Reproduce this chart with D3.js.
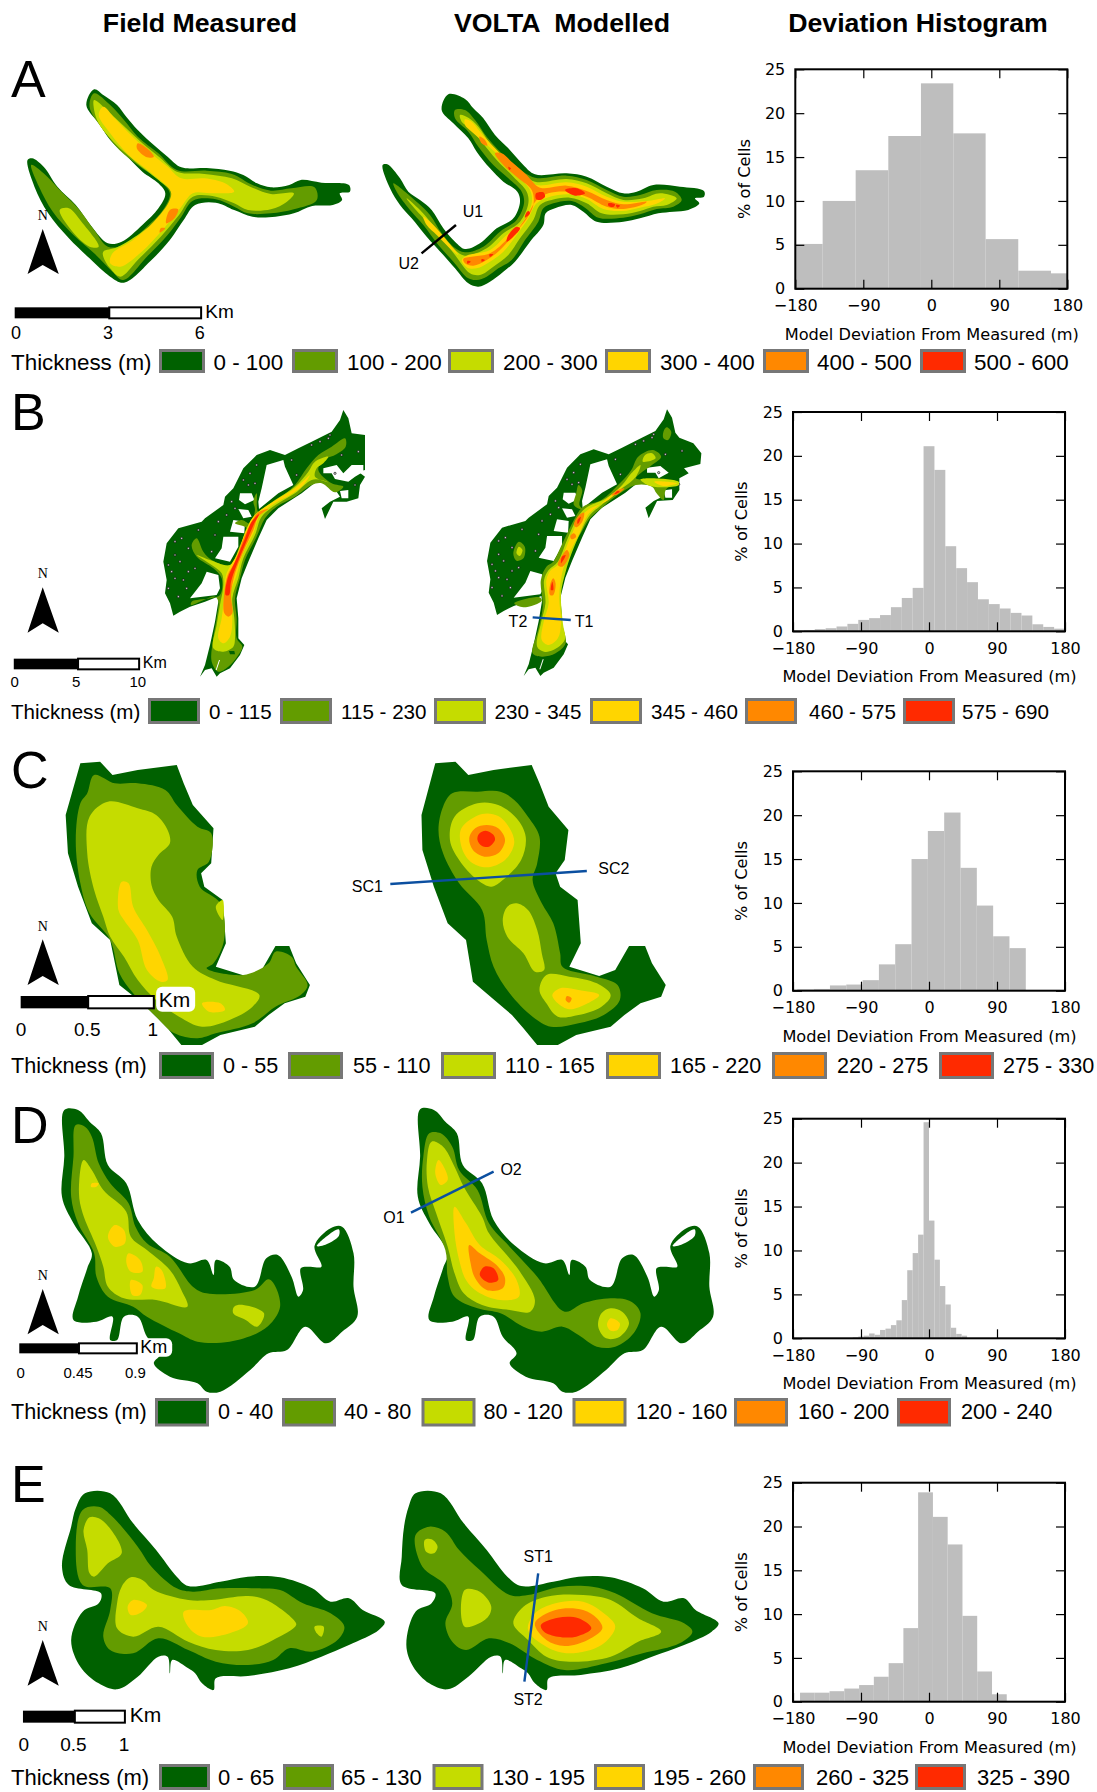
<!DOCTYPE html>
<html>
<head>
<meta charset="utf-8">
<script src="https://cdn.jsdelivr.net/npm/d3@7/dist/d3.min.js"></script>
<style>
  html, body { margin: 0; background: #fff; }
  svg { display: block; }
  text { fill: #000; }
</style>
</head>
<body>
<svg id="chart" width="1097" height="1792"></svg>
<script>
// ── thickness classes ──
const thicknessColors = ['#006100', '#639c00', '#c5dc00', '#ffd500', '#ff8800', '#ff2a00'];
const panelLetters = ['A', 'B', 'C', 'D', 'E'];
const columnTitles = ['Field Measured', 'VOLTA  Modelled', 'Deviation Histogram'];

const legendA = ['0 - 100', '100 - 200', '200 - 300', '300 - 400', '400 - 500', '500 - 600'];
const legendB = ['0 - 115', '115 - 230', '230 - 345', '345 - 460', '460 - 575', '575 - 690'];
const legendC = ['0 - 55', '55 - 110', '110 - 165', '165 - 220', '220 - 275', '275 - 330'];
const legendD = ['0 - 40', '40 - 80', '80 - 120', '120 - 160', '160 - 200', '200 - 240'];
const legendE = ['0 - 65', '65 - 130', '130 - 195', '195 - 260', '260 - 325', '325 - 390'];

// ── deviation histograms: bin edges (m) and % of cells ──
const histTicksX = [-180, -90, 0, 90, 180];
const histTicksY = [0, 5, 10, 15, 20, 25];

const edgesA = [-187, -143.8, -100.1, -56.9, -13.7, 29.1, 71.9, 115.1, 158.4, 201.6];
const valuesA = [5.1, 10, 13.5, 17.4, 23.4, 17.7, 5.65, 2.05, 1.75];

const edgesB = [-180, -165.6, -151.2, -136.8, -122.4, -108, -93.6, -79.2, -64.8, -50.4, -36, -21.6, -7.2, 7.2, 21.6, 36, 50.4, 64.8, 79.2, 93.6, 108, 122.4, 136.8, 151.2, 165.6, 180];
const valuesB = [0.1, 0.15, 0.25, 0.35, 0.55, 0.85, 1.3, 1.5, 1.85, 2.75, 3.8, 4.95, 21.1, 18.4, 9.7, 7.2, 5.6, 3.65, 3.1, 2.6, 2.1, 1.8, 0.8, 0.5, 0.3];

const edgesC = [-174.3, -152.7, -131.1, -109.5, -87.9, -66.3, -44.7, -23.1, -1.5, 20.1, 41.7, 63.3, 84.9, 106.5, 128.1];
const valuesC = [0.15, 0.2, 0.6, 0.7, 1.2, 3, 5.3, 15, 18.2, 20.3, 14, 9.7, 6.2, 4.85];

const edgesD = [-100.8, -93.6, -86.4, -79.2, -72, -64.8, -57.6, -50.4, -43.2, -36, -28.8, -21.6, -14.4, -7.2, 0, 7.2, 14.4, 21.6, 28.8, 36, 43.2, 50.4];
const valuesD = [0.1, 0.2, 0.3, 0.55, 0.4, 0.95, 1.1, 1.5, 2.05, 4.35, 7.75, 9.7, 11.8, 24.6, 13.4, 8.95, 5.95, 3.85, 1.2, 0.5, 0.3];

const edgesE = [-170.7, -151.2, -131.6, -112.1, -92.5, -73, -53.4, -33.9, -14.4, 5.2, 24.7, 44.3, 63.8, 83.4, 102.9];
const valuesE = [1.03, 1.03, 1.2, 1.5, 1.9, 2.85, 4.4, 8.4, 23.9, 21.1, 17.95, 9.8, 3.45, 0.85];

// ── map contours: [class, x0,y0, x1,y1, ...] ──
// class -1 is a hole (rock / open ground). Each set has its own trace frame, see panels below.
const mapAField = [
  [0, 205,118, 225,135, 255,165, 275,200, 300,240, 335,285, 365,320, 395,352, 450,354, 500,362, 530,375, 560,400, 590,412, 630,405, 655,390, 700,398, 760,405, 762,425, 740,430, 745,450, 725,465, 680,468, 640,490, 600,500, 550,500, 510,480, 470,458, 425,465, 400,510, 370,570, 330,630, 270,698, 240,680, 195,625, 150,565, 105,490, 75,410, 60,330, 70,325, 95,350, 125,410, 165,465, 200,530, 235,580, 265,575, 310,525, 345,475, 360,430, 345,400, 310,365, 270,310, 240,270, 215,220, 188,165],
  [1, 205,130, 240,165, 270,210, 300,260, 345,310, 385,360, 450,362, 505,372, 550,405, 590,422, 635,415, 685,412, 690,450, 640,478, 590,490, 540,490, 510,470, 470,448, 420,452, 395,500, 365,555, 320,620, 268,690, 245,665, 205,610, 160,555, 115,485, 85,410, 68,345, 95,370, 130,420, 170,475, 205,540, 235,590, 270,585, 320,530, 355,480, 370,430, 350,395, 300,345, 260,300, 225,240, 195,170],
  [2, 205,150, 240,190, 275,235, 310,280, 350,325, 385,365, 445,372, 505,385, 545,410, 590,432, 640,430, 625,455, 590,478, 540,480, 510,460, 470,440, 420,440, 390,495, 350,560, 300,630, 262,680, 240,655, 225,620, 225,605, 255,592, 315,540, 365,480, 375,430, 345,390, 295,335, 250,280, 215,220, 205,180],
  [2, 130,480, 150,475, 180,520, 215,590, 195,590, 155,540],
  [3, 225,170, 250,205, 285,255, 325,305, 365,350, 395,385, 445,385, 490,400, 510,425, 460,430, 420,430, 395,470, 360,530, 305,610, 262,650, 240,640, 245,610, 290,570, 335,515, 368,455, 372,425, 330,370, 280,315, 240,250, 215,195],
  [4, 300,280, 320,295, 335,320, 320,322, 298,295],
  [4, 370,480, 388,478, 380,505, 362,520],
  [4, 350,535, 360,535, 348,548]
];
const mapAModel = [
  [0, 205,28, 255,42, 280,70, 310,100, 345,150, 385,190, 430,240, 465,268, 560,265, 620,275, 680,305, 730,325, 770,320, 820,300, 900,305, 972,318, 972,335, 945,340, 958,355, 925,375, 880,380, 835,385, 780,400, 730,410, 650,410, 610,380, 575,360, 525,370, 497,385, 490,420, 450,470, 405,530, 370,560, 330,590, 295,605, 265,595, 225,550, 190,510, 140,455, 95,400, 60,360, 30,310, 8,240, 22,238, 60,280, 85,320, 120,345, 155,375, 190,430, 225,470, 255,492, 300,475, 350,430, 400,400, 420,350, 412,320, 370,290, 330,250, 290,200, 265,160, 220,115, 185,75],
  [1, 225,75, 255,75, 285,105, 320,155, 365,205, 410,245, 465,278, 560,272, 620,285, 680,315, 730,335, 780,330, 830,315, 885,320, 905,345, 880,365, 830,372, 780,388, 730,398, 655,398, 615,368, 575,348, 520,355, 490,370, 475,410, 435,465, 395,525, 355,550, 320,575, 290,585, 265,580, 220,530, 175,480, 130,420, 90,375, 50,320, 40,295, 75,320, 115,355, 150,390, 185,445, 220,485, 255,502, 310,485, 360,440, 410,405, 432,355, 425,320, 385,280, 340,240, 295,185, 265,140, 225,100],
  [2, 240,90, 265,98, 295,125, 330,175, 375,220, 420,260, 465,290, 560,282, 620,295, 680,325, 730,345, 790,340, 840,325, 890,340, 860,360, 820,365, 780,378, 730,388, 665,385, 620,355, 570,338, 515,345, 480,360, 460,405, 420,460, 385,510, 340,545, 300,570, 270,565, 225,510, 185,460, 140,410, 95,360, 80,340, 120,375, 155,415, 190,460, 225,495, 255,512, 320,490, 370,445, 420,410, 445,355, 440,320, 400,275, 350,225, 305,170, 270,130, 245,110],
  [3, 255,103, 275,110, 300,140, 345,190, 390,235, 435,275, 470,300, 560,292, 620,305, 680,335, 730,350, 800,348, 855,340, 825,358, 780,368, 725,378, 670,372, 620,342, 570,328, 510,335, 470,355, 445,400, 410,450, 370,500, 330,530, 290,550, 262,548, 245,525, 260,512, 330,495, 380,450, 425,415, 455,355, 450,315, 410,270, 360,215, 310,170, 275,140, 255,120],
  [3, 130,395, 160,420, 195,460, 235,510, 215,495, 170,450, 140,420],
  [4, 345,205, 365,205, 400,235, 440,270, 480,308, 560,302, 620,318, 680,345, 730,358, 800,350, 790,358, 730,372, 680,365, 620,335, 565,320, 505,325, 470,345, 440,395, 400,450, 360,495, 320,525, 280,542, 255,535, 250,522, 330,505, 385,460, 430,415, 460,360, 455,315, 415,280, 370,240],
  [4, 298,155, 315,165, 322,182, 305,175],
  [5, 468,325, 490,322, 495,335, 480,345, 468,342],
  [5, 555,315, 590,310, 615,325, 585,332],
  [5, 685,355, 705,358, 700,366, 685,362],
  [5, 708,360, 720,362, 712,368],
  [5, 410,425, 420,430, 400,455, 380,470, 385,450],
  [5, 445,378, 450,385, 435,398, 438,385],
  [5, 262,528, 272,530, 262,536],
  [5, 305,522, 315,525, 305,530],
  [5, 328,508, 340,508, 330,516],
  [5, 385,245, 393,250, 388,255]
];

const mapBField = [
  [0, 135,815, 150,780, 165,720, 180,650, 190,590, 188,575, 150,590, 105,605, 75,620, 55,632, 45,595, 30,565, 35,525, 25,470, 35,415, 70,370, 140,350, 150,340, 205,300, 210,275, 235,250, 265,190, 305,150, 345,135, 390,150, 430,130, 470,110, 530,80, 555,45, 565,15, 580,40, 590,85, 630,90, 630,195, 610,200, 630,215, 615,240, 610,280, 575,290, 535,290, 510,342, 500,310, 525,290, 555,275, 535,245, 490,225, 440,265, 370,310, 335,345, 310,400, 280,470, 260,520, 245,580, 250,640, 250,700, 268,720, 255,750, 225,790, 195,805, 185,815, 170,790, 150,795],
  [-1, 335,180, 385,165, 390,185, 415,240, 370,265, 312,312, 310,290, 320,250],
  [-1, 255,265, 290,265, 298,285, 270,298, 252,285],
  [-1, 250,312, 280,315, 290,335, 265,340],
  [-1, 235,345, 270,350, 268,385, 225,380],
  [-1, 205,395, 250,395, 250,425, 225,470, 180,460, 200,430],
  [-1, 155,500, 190,510, 195,550, 185,570, 105,580, 140,535],
  [-1, 505,190, 545,180, 565,205, 590,180, 625,180, 625,200, 600,215, 580,230, 540,222, 530,205, 505,205],
  [-1, 555,258, 580,255, 580,280, 560,280],
  [1, 570,100, 572,125, 540,150, 505,165, 490,195, 530,235, 565,245, 540,262, 500,235, 470,240, 420,275, 365,305, 330,340, 305,395, 270,465, 255,520, 240,580, 245,640, 245,700, 262,725, 250,750, 220,785, 190,800, 170,770, 175,700, 185,640, 190,590, 180,575, 108,600, 110,590, 165,580, 195,570, 200,520, 175,490, 125,455, 110,420, 125,400, 145,440, 170,465, 225,480, 255,420, 275,370, 240,355, 260,345, 285,355, 300,315, 295,290, 305,265, 310,320, 360,290, 420,240, 455,190, 490,150, 530,125],
  [2, 520,155, 505,175, 485,190, 480,215, 520,232, 500,225, 470,225, 420,265, 365,298, 320,335, 300,390, 265,460, 250,520, 232,580, 238,640, 240,700, 235,725, 205,740, 175,730, 185,660, 195,600, 205,540, 200,505, 170,480, 125,450, 165,465, 225,480, 250,440, 275,370, 300,330, 360,285, 420,245, 460,200, 480,170],
  [3, 465,210, 445,240, 405,270, 360,295, 315,330, 295,385, 262,450, 245,510, 225,570, 232,640, 225,695, 205,715, 190,700, 200,640, 208,570, 212,515, 222,490, 245,450, 270,385, 295,335, 355,290, 420,250],
  [4, 340,312, 310,335, 295,375, 265,440, 240,505, 228,570, 232,625, 220,635, 208,625, 207,570, 218,510, 240,470, 262,410, 285,360, 310,322],
  [5, 312,328, 298,355, 272,415, 245,480, 228,530, 222,570, 212,570, 218,520, 240,470, 268,405, 290,350],
  [0, 222,738, 238,738, 240,748, 225,748],
  [-1, 195,765, 185,795, 182,795, 192,765]
];
const mapBModelBase = [
  [0, 135,815, 150,780, 165,720, 180,650, 190,590, 188,575, 150,590, 105,605, 75,620, 55,632, 45,595, 30,565, 35,525, 25,470, 35,415, 70,370, 140,350, 150,340, 205,300, 210,275, 235,250, 265,190, 305,150, 345,135, 390,150, 430,130, 470,110, 530,80, 555,45, 565,15, 580,40, 590,85, 602,100, 644,117, 668,147, 665,179, 616,192, 630,207, 602,222, 602,257, 582,287, 535,290, 510,342, 500,310, 525,290, 555,275, 535,245, 490,225, 440,265, 370,310, 335,345, 310,400, 280,470, 260,520, 245,580, 250,640, 250,700, 268,720, 255,750, 225,790, 195,805, 185,815, 170,790, 150,795],
  [-1, 335,180, 385,165, 390,185, 415,240, 370,265, 312,312, 310,290, 320,250],
  [-1, 255,265, 290,265, 298,285, 270,298, 252,285],
  [-1, 250,312, 280,315, 290,335, 265,340],
  [-1, 235,345, 270,350, 268,385, 225,380],
  [-1, 205,395, 250,395, 250,425, 225,470, 180,460, 200,430],
  [-1, 155,500, 190,510, 195,550, 185,570, 105,580, 140,535],
  [-1, 505,190, 545,185, 570,205, 540,222, 530,205, 505,205],
  [-1, 555,258, 580,255, 580,280, 560,280],
  [-1, 195,765, 185,795, 182,795, 192,765]
];
const mapBModel = [
  [1, 1422,180, 1440,200, 1420,225, 1395,250, 1385,265, 1440,270, 1470,275, 1450,300, 1445,330, 1430,310, 1420,290, 1385,285, 1340,320, 1305,360, 1285,385, 1265,430, 1240,490, 1228,550, 1218,620, 1224,700, 1232,760, 1210,790, 1180,800, 1160,790, 1172,720, 1182,650, 1178,570, 1190,530, 1205,515, 1225,460, 1250,390, 1270,350, 1310,330, 1350,280, 1375,240, 1390,200],
  [1, 1130,455, 1143,470, 1140,505, 1125,512, 1118,490],
  [1, 1452,112, 1462,125, 1455,150, 1445,145, 1445,125],
  [1, 1260,285, 1268,300, 1262,345, 1270,360, 1250,345, 1255,310],
  [1, 1120,640, 1175,622, 1180,632, 1140,652],
  [2, 1420,190, 1428,205, 1400,215, 1405,195],
  [2, 1395,225, 1385,260, 1355,295, 1310,345, 1285,375, 1265,425, 1245,490, 1232,545, 1222,610, 1226,700, 1230,750, 1205,780, 1185,785, 1170,770, 1178,700, 1188,640, 1185,570, 1195,540, 1215,515, 1235,450, 1255,390, 1275,355, 1320,325, 1355,285, 1375,250],
  [2, 1395,268, 1478,275, 1478,285, 1440,292, 1410,285],
  [2, 1130,470, 1138,480, 1132,498, 1125,490],
  [3, 1385,258, 1350,295, 1310,340, 1280,375, 1262,430, 1240,490, 1225,545, 1218,620, 1222,700, 1215,745, 1195,765, 1180,750, 1185,690, 1195,640, 1190,570, 1200,540, 1215,525, 1240,450, 1258,395, 1280,360, 1325,330, 1360,285],
  [3, 1425,275, 1475,280, 1445,288],
  [4, 1360,295, 1342,315, 1332,315, 1345,300],
  [4, 1272,368, 1268,395, 1255,412, 1250,405, 1258,380],
  [4, 1250,430, 1255,440, 1245,448, 1242,438],
  [4, 1235,480, 1240,495, 1225,530, 1215,525, 1225,495],
  [4, 1205,565, 1210,580, 1205,615, 1198,615, 1198,585],
  [5, 1345,303, 1350,305, 1338,313],
  [5, 1265,380, 1262,395, 1258,402, 1258,390],
  [5, 1232,495, 1222,520, 1224,500],
  [5, 1203,575, 1205,600, 1200,600]
];
const specksB = [40,480, 60,450, 75,470, 100,430, 60,520, 85,525, 95,550, 70,575, 40,550, 130,375, 180,390, 190,350, 215,330, 240,310, 265,225, 285,205, 305,180, 300,235, 410,165, 425,210, 470,120, 495,110, 525,90, 520,100, 610,140, 600,240, 540,205, 560,150, 170,440, 60,410, 100,500, 50,500, 120,490, 80,400, 230,290, 280,240];

const mapCField = [
  [0, 175,70, 218,65, 245,105, 300,90, 385,75, 400,130, 420,195, 465,265, 460,370, 438,400, 445,440, 485,480, 492,610, 470,680, 535,708, 570,690, 600,618, 630,618, 645,670, 675,735, 665,770, 620,790, 585,825, 555,860, 480,885, 440,915, 395,915, 365,865, 340,830, 310,790, 260,735, 240,600, 200,550, 170,440, 148,340, 143,225],
  [1, 205,105, 250,130, 300,130, 360,150, 385,195, 430,260, 460,280, 455,365, 430,390, 435,440, 480,490, 488,600, 465,670, 450,685, 530,705, 585,670, 600,635, 635,650, 645,680, 670,735, 655,765, 600,800, 550,850, 470,880, 430,895, 380,880, 340,830, 290,760, 260,700, 240,600, 195,520, 175,430, 165,300, 175,190, 190,160],
  [2, 235,185, 300,205, 340,225, 365,270, 370,310, 345,345, 330,380, 330,435, 345,480, 375,530, 385,590, 420,680, 470,720, 565,765, 550,800, 500,840, 440,860, 390,830, 340,780, 300,720, 270,650, 240,590, 225,530, 205,450, 190,340, 195,230],
  [2, 470,500, 485,480, 485,540],
  [3, 265,425, 280,430, 290,500, 320,570, 350,650, 365,720, 350,725, 320,690, 300,600, 270,540, 258,510],
  [3, 440,790, 480,790, 490,810, 455,815]
];
const mapCModel = [
  [0, 948,70, 992,65, 1020,105, 1075,90, 1158,75, 1175,130, 1195,200, 1238,270, 1230,360, 1210,400, 1220,440, 1258,480, 1265,610, 1240,680, 1305,708, 1340,690, 1370,618, 1405,618, 1420,670, 1450,735, 1440,770, 1395,790, 1360,825, 1330,860, 1255,885, 1215,915, 1170,915, 1140,865, 1115,825, 1085,790, 1030,725, 1015,600, 975,550, 945,440, 920,330, 918,225],
  [1, 985,160, 1040,155, 1090,155, 1120,180, 1150,230, 1175,290, 1170,370, 1160,420, 1180,490, 1205,550, 1220,640, 1225,680, 1300,710, 1345,735, 1350,780, 1315,825, 1260,850, 1200,860, 1160,830, 1110,760, 1075,680, 1060,600, 1050,510, 1000,430, 965,340, 955,270, 965,200],
  [2, 1040,190, 1085,195, 1125,235, 1145,290, 1135,360, 1095,420, 1070,440, 1040,420, 1000,360, 980,300, 990,230],
  [2, 1125,490, 1150,510, 1170,570, 1180,640, 1185,690, 1165,695, 1140,640, 1105,590, 1095,540, 1105,500],
  [2, 1190,705, 1240,710, 1300,730, 1330,765, 1310,800, 1260,825, 1215,830, 1190,790, 1175,750],
  [3, 1050,222, 1085,228, 1110,265, 1120,310, 1100,360, 1060,382, 1025,365, 1005,320, 1005,265],
  [3, 1220,745, 1260,750, 1305,765, 1280,790, 1240,808, 1215,790, 1203,765],
  [4, 1060,255, 1085,265, 1100,300, 1085,340, 1055,350, 1030,330, 1022,295, 1035,265],
  [4, 1235,768, 1245,775, 1240,788, 1232,780],
  [5, 1058,272, 1075,285, 1078,300, 1065,320, 1050,318, 1040,300, 1043,282]
];

const mapDField = [
  [0, 140,60, 170,60, 195,95, 220,130, 235,225, 275,280, 300,390, 345,465, 410,520, 450,510, 465,555, 470,510, 500,530, 510,570, 555,590, 580,505, 605,495, 635,560, 650,620, 660,600, 655,535, 675,530, 700,530, 685,468, 720,415, 745,410, 770,490, 770,590, 778,680, 745,725, 710,760, 665,710, 625,780, 585,790, 545,840, 480,905, 450,905, 430,880, 370,860, 335,820, 350,790, 320,740, 300,680, 270,680, 255,750, 240,750, 245,680, 210,695, 160,690, 170,620, 190,535, 200,490, 160,400, 135,320, 140,200],
  [-1, 690,468, 725,425, 738,418, 738,438, 705,466],
  [1, 165,105, 185,110, 200,140, 215,220, 240,280, 280,340, 295,410, 320,460, 370,500, 420,590, 450,610, 555,600, 585,568, 600,590, 610,650, 590,700, 560,730, 500,755, 430,755, 390,730, 320,680, 290,650, 235,620, 210,560, 205,490, 170,400, 155,320, 160,200],
  [2, 182,210, 200,240, 225,300, 275,365, 285,440, 320,480, 370,540, 395,600, 408,650, 340,630, 270,625, 235,590, 225,530, 210,470, 180,370, 172,310],
  [2, 510,650, 530,645, 575,670, 560,710, 535,690, 508,670],
  [3, 200,280, 215,280, 210,290, 198,290],
  [3, 250,405, 270,420, 272,460, 250,470, 235,440],
  [3, 280,490, 305,510, 310,545, 285,545, 275,515],
  [3, 340,530, 352,540, 360,595, 330,590, 335,565],
  [3, 285,570, 310,585, 305,615, 288,615]
];
const mapDModel = [
  [0, 915,58, 945,60, 970,95, 995,130, 1008,225, 1050,280, 1075,390, 1120,465, 1185,520, 1225,510, 1240,555, 1245,510, 1275,530, 1285,570, 1330,590, 1355,505, 1380,495, 1410,560, 1425,620, 1435,600, 1430,535, 1450,530, 1475,530, 1460,468, 1495,415, 1520,410, 1545,490, 1545,590, 1553,680, 1520,725, 1485,760, 1440,710, 1400,780, 1360,790, 1320,840, 1255,905, 1225,905, 1205,880, 1145,860, 1110,820, 1125,790, 1095,740, 1075,680, 1045,680, 1030,750, 1015,750, 1020,680, 985,695, 935,690, 945,620, 965,535, 975,490, 935,400, 910,320, 915,200],
  [-1, 1465,468, 1500,425, 1513,418, 1513,438, 1480,466],
  [1, 935,130, 960,130, 985,170, 1000,240, 1040,300, 1065,400, 1110,470, 1170,560, 1230,665, 1270,640, 1330,625, 1375,635, 1395,670, 1380,730, 1340,770, 1300,770, 1260,735, 1225,710, 1180,725, 1140,710, 1090,670, 1040,655, 990,620, 975,560, 970,480, 935,380, 920,290, 922,200],
  [2, 940,155, 965,170, 990,230, 1010,290, 1050,380, 1065,430, 1130,540, 1165,630, 1155,665, 1110,660, 1050,645, 1010,610, 990,550, 975,470, 950,370, 932,290, 930,210],
  [2, 1330,655, 1355,665, 1370,700, 1350,740, 1320,745, 1303,710, 1310,670],
  [3, 955,210, 970,240, 975,270, 960,285, 948,250],
  [3, 990,350, 1015,400, 1045,465, 1090,510, 1125,570, 1130,620, 1090,630, 1040,605, 1015,570, 1000,510, 990,430],
  [3, 1330,685, 1350,700, 1345,720, 1330,722, 1322,705],
  [4, 1022,465, 1045,490, 1085,530, 1100,565, 1095,595, 1060,600, 1035,565, 1025,520],
  [5, 1055,530, 1075,535, 1085,570, 1065,578, 1045,555]
];

const mapEField = [
  [0, 185,100, 240,100, 290,190, 340,270, 385,350, 410,378, 480,365, 540,350, 610,352, 680,385, 720,425, 760,415, 790,450, 838,485, 825,510, 760,555, 700,590, 630,625, 540,648, 470,655, 465,690, 440,670, 425,640, 410,625, 375,600, 370,640, 365,590, 345,590, 300,650, 255,688, 215,670, 175,620, 155,540, 180,455, 215,430, 220,400, 150,375, 135,320, 155,200, 165,145],
  [1, 180,150, 215,140, 245,170, 300,260, 330,320, 385,385, 420,395, 480,385, 560,385, 610,390, 660,430, 720,460, 750,500, 735,540, 680,575, 630,565, 595,600, 540,615, 470,605, 410,570, 345,535, 290,580, 240,570, 225,530, 240,450, 240,385, 180,375, 165,260],
  [2, 195,172, 215,175, 245,215, 265,280, 235,310, 205,350, 195,340, 190,270, 182,210],
  [2, 285,352, 310,360, 335,390, 410,420, 460,420, 540,408, 580,420, 640,480, 645,495, 595,540, 540,570, 470,570, 410,545, 345,500, 290,530, 255,505, 255,430, 265,380],
  [2, 685,500, 705,500, 700,530, 690,520],
  [3, 290,420, 320,435, 310,455, 285,465, 278,440],
  [3, 400,455, 460,450, 490,438, 525,455, 540,490, 500,520, 440,530, 410,500]
];
const mapEModel = [
  [0, 905,100, 960,100, 1010,190, 1060,270, 1105,350, 1135,378, 1205,365, 1260,350, 1330,352, 1400,385, 1445,425, 1490,415, 1515,450, 1565,490, 1550,515, 1490,555, 1420,590, 1350,625, 1265,645, 1195,655, 1190,690, 1165,670, 1150,640, 1135,625, 1100,600, 1095,640, 1090,590, 1070,590, 1020,650, 975,688, 935,670, 900,620, 885,555, 905,455, 940,430, 948,400, 875,375, 875,290, 880,200, 890,140],
  [1, 905,225, 935,200, 970,215, 1000,270, 1045,330, 1110,405, 1150,405, 1220,380, 1290,380, 1340,400, 1420,460, 1490,490, 1508,515, 1480,550, 1400,580, 1320,610, 1230,630, 1170,600, 1110,550, 1065,535, 1015,570, 985,545, 970,490, 985,430, 970,375, 920,320],
  [2, 925,240, 940,238, 953,260, 945,280, 928,275],
  [2, 1012,390, 1045,395, 1070,440, 1060,475, 1012,500],
  [2, 1140,440, 1190,410, 1270,405, 1330,420, 1390,475, 1440,515, 1390,545, 1330,590, 1240,605, 1190,590, 1150,540, 1118,490],
  [3, 1165,460, 1210,430, 1270,425, 1320,465, 1340,500, 1310,555, 1240,580, 1190,560, 1150,510],
  [4, 1165,490, 1210,450, 1270,450, 1300,475, 1312,505, 1280,540, 1230,558, 1190,540],
  [5, 1178,495, 1215,473, 1260,475, 1288,505, 1255,530, 1215,530, 1185,515]
];

// transects: name at each end
const transectNames = [['U1', 'U2'], ['T1', 'T2'], ['SC1', 'SC2'], ['O1', 'O2'], ['ST1', 'ST2']];

// ── page layout ──
const W = 1097, H = 1792;
const svg = d3.select('#chart');
const sans = '"Liberation Sans", Arial, sans-serif';
const plotFont = '"DejaVu Sans", sans-serif';

// frame: [left px, top px, trace units per px across, trace units per px down]
const panels = [
  { letter: 0, top: 50, base: 97, legend: legendA,
    maps: [
      { frame: [0, 50, 2.178, 3], layers: mapAField, smooth: true },
      { frame: [380, 85, 3, 3], layers: mapAModel, smooth: true }
    ],
    hist: { edges: edgesA, values: valuesA, x: [795.3, 1067.3], y: [288.7, 69.3], labelX: 744 },
    transect: { line: [918,610, 993,525], color: '#000', labels: [[1030,483], [890,640]], names: 0 },
    compass: { n: 495, tip: 537, notch: 645, base: 672 },
    bar: { x: [32, 238, 438], y: [772, 805], stops: ['0', '3', '6'], stopX: [35, 235, 435], stopY: 848, kmX: 478, kmY: 783, font: 18, km: 19 },
    lg: { swatch: [159, 292, 448, 605, 763, 920], label: [213.5, 347, 503, 660, 817, 974], y: [349, 373], w: 46, font: 22.4, textY: 362 } },
  { letter: 1, top: 390, base: 430, legend: legendB,
    maps: [
      { frame: [155, 405, 3, 3], layers: mapBField, specks: specksB },
      { frame: [478.7, 404.3, 3, 3], layers: mapBModelBase, specks: specksB },
      { frame: [0, 390, 2.178, 3], layers: mapBModel }
    ],
    hist: { edges: edgesB, values: valuesB, x: [793, 1065], y: [631.3, 412], labelX: 741.7 },
    transect: { line: [1160,682, 1243,690], color: '#0b4fa0', labels: [[1272,695], [1128,695]], names: 1 },
    compass: { n: 550, tip: 592, notch: 700, base: 728 },
    bar: { x: [30, 170, 303], y: [806, 838], stops: ['0', '5', '10'], stopX: [32, 166, 300], stopY: 876, kmX: 337, kmY: 818, font: 15, km: 16 },
    lg: { swatch: [148, 280, 434, 590, 745, 903], label: [209, 341, 494.5, 651, 809, 962], y: [698, 724], w: 52, font: 20.6, textY: 712 } },
  { letter: 2, top: 740, base: 788, legend: legendC,
    maps: [
      { frame: [0, 740, 2.178, 3], layers: mapCField },
      { frame: [0, 740, 2.178, 3], layers: mapCModel }
    ],
    hist: { edges: edgesC, values: valuesC, x: [793, 1065], y: [990.7, 771.3], labelX: 741.7 },
    transect: { line: [850,432, 1278,393], color: '#0b4fa0', labels: [[800,440], [1337,385]], names: 2 },
    compass: { n: 558, tip: 598, notch: 708, base: 735 },
    bar: { x: [45, 192, 335], y: [768, 805], stops: ['0', '0.5', '1'], stopX: [46, 190, 333], stopY: 868, kmX: 380, kmY: 778, font: 19, km: 21, halo: [340, 740, 425, 815] },
    lg: { swatch: [159, 288, 441, 606, 772, 939], label: [223, 353, 505, 670, 837, 1003], y: [1052, 1079], w: 55, font: 21.6, textY: 1065 } },
  { letter: 3, top: 1090, base: 1143, legend: legendD,
    maps: [
      { frame: [0, 1090, 2.178, 3], layers: mapDField, smooth: true },
      { frame: [0, 1090, 2.178, 3], layers: mapDModel, smooth: true }
    ],
    hist: { edges: edgesD, values: valuesD, x: [793, 1065], y: [1338.3, 1118.7], labelX: 741.7 },
    transect: { line: [895,368, 1075,245], color: '#0b4fa0', labels: [[858,382], [1113,237]], names: 3 },
    compass: { n: 555, tip: 597, notch: 705, base: 733 },
    bar: { x: [42, 172, 298], y: [760, 790], stops: ['0', '0.45', '0.9'], stopX: [45, 170, 295], stopY: 848, kmX: 335, kmY: 770, font: 15, km: 18, halo: [303, 745, 375, 800] },
    lg: { swatch: [155, 282, 421.5, 572.5, 734, 897], label: [218, 344, 483.5, 636, 798, 961], y: [1398, 1426.5], w: 54, font: 21.6, textY: 1411.7 } },
  { letter: 4, top: 1460, base: 1502, legend: legendE,
    maps: [
      { frame: [0, 1460, 2.178, 3], layers: mapEField, smooth: true },
      { frame: [0, 1460, 2.178, 3], layers: mapEModel, smooth: true }
    ],
    hist: { edges: edgesE, values: valuesE, x: [793, 1065], y: [1701.7, 1482.7], labelX: 741.7 },
    transect: { line: [1172,340, 1142,665], color: '#0b4fa0', labels: [[1172,290], [1150,718]], names: 4 },
    compass: { n: 497, tip: 540, notch: 650, base: 677 },
    bar: { x: [50, 163, 272], y: [752, 788], stops: ['0', '0.5', '1'], stopX: [52, 160, 270], stopY: 852, kmX: 317, kmY: 765, font: 19, km: 21 },
    lg: { swatch: [159, 283, 432.5, 594, 753, 915], label: [218, 341, 492, 653, 816, 977], y: [1764, 1790], w: 51, font: 22, textY: 1777 } }
];

const pairs = (a) => d3.range(0, a.length, 2).map((i) => [a[i], a[i + 1]]);

svg.append('rect').attr('width', W).attr('height', H).attr('fill', '#fff');

// column titles
const titleX = [200, 562, 918];
svg.selectAll('text.title').data(columnTitles).enter().append('text')
  .attr('class', 'title')
  .attr('x', (d, i) => titleX[i]).attr('y', 23).attr('dy', '0.35em')
  .attr('text-anchor', 'middle')
  .attr('font-family', sans).attr('font-weight', 700).attr('font-size', 26.7)
  .style('white-space', 'pre')
  .text((d) => d);

panels.forEach((p) => {
  const g = svg.append('g');
  // main trace frame for annotations: 2.178 units per px across, 3 down
  const mapX = d3.scaleLinear().domain([0, 1568]).range([0, 720]);
  const mapY = d3.scaleLinear().domain([0, 3]).range([p.top, p.top + 1]);

  g.append('text').attr('x', 11).attr('y', p.base)
    .attr('font-family', sans).attr('font-size', 52)
    .text(panelLetters[p.letter]);

  // ── maps ──
  p.maps.forEach((m) => {
    const fx = d3.scaleLinear().domain([0, m.frame[2]]).range([m.frame[0], m.frame[0] + 1]);
    const fy = d3.scaleLinear().domain([0, m.frame[3]]).range([m.frame[1], m.frame[1] + 1]);
    const linear = d3.line().x((d) => fx(d[0])).y((d) => fy(d[1])).curve(d3.curveLinearClosed);
    const smooth = d3.line().x((d) => fx(d[0])).y((d) => fy(d[1])).curve(d3.curveCatmullRomClosed.alpha(0.5));
    g.append('g').selectAll('path').data(m.layers).enter().append('path')
      .attr('d', (l) => ((l[0] <= 0 && !m.smooth) ? linear : smooth)(pairs(l.slice(1))))
      .attr('fill', (l) => (l[0] < 0 ? '#fff' : thicknessColors[l[0]]));
    if (m.specks) {
      g.append('g').selectAll('circle').data(pairs(m.specks)).enter().append('circle')
        .attr('cx', (d) => fx(d[0])).attr('cy', (d) => fy(d[1])).attr('r', 1.1)
        .attr('fill', '#ddd').attr('stroke', '#111').attr('stroke-width', 0.7);
    }
  });

  // ── transect ──
  const t = pairs(p.transect.line);
  g.append('line')
    .attr('x1', mapX(t[0][0])).attr('y1', mapY(t[0][1]))
    .attr('x2', mapX(t[1][0])).attr('y2', mapY(t[1][1]))
    .attr('stroke', p.transect.color).attr('stroke-width', 2.4);
  p.transect.labels.forEach((l, i) => {
    g.append('text').attr('x', mapX(l[0])).attr('y', mapY(l[1])).attr('dy', '0.35em')
      .attr('text-anchor', 'middle').attr('font-family', sans).attr('font-size', 16)
      .text(transectNames[p.transect.names][i]);
  });

  // ── north arrow ──
  const c = p.compass;
  g.append('text').attr('x', mapX(93)).attr('y', mapY(c.n)).attr('dy', '0.35em')
    .attr('text-anchor', 'middle').attr('font-family', '"Liberation Serif", serif').attr('font-size', 14)
    .attr('fill', '#333').text('N');
  g.append('path')
    .attr('d', d3.line()([[mapX(93), mapY(c.tip)], [mapX(128), mapY(c.base)], [mapX(93), mapY(c.notch)], [mapX(60), mapY(c.base)]]) + 'Z')
    .attr('fill', '#000');

  // ── scale bar ──
  const b = p.bar;
  if (b.halo) {
    g.append('rect')
      .attr('x', mapX(b.halo[0])).attr('y', mapY(b.halo[1]))
      .attr('width', mapX(b.halo[2]) - mapX(b.halo[0])).attr('height', mapY(b.halo[3]) - mapY(b.halo[1]))
      .attr('rx', 6).attr('fill', '#fff');
  }
  g.append('rect').attr('x', mapX(b.x[0])).attr('y', mapY(b.y[0]))
    .attr('width', mapX(b.x[1]) - mapX(b.x[0])).attr('height', mapY(b.y[1]) - mapY(b.y[0]))
    .attr('fill', '#000');
  g.append('rect').attr('x', mapX(b.x[1])).attr('y', mapY(b.y[0]))
    .attr('width', mapX(b.x[2]) - mapX(b.x[1])).attr('height', mapY(b.y[1]) - mapY(b.y[0]))
    .attr('fill', '#fff').attr('stroke', '#000').attr('stroke-width', 2);
  g.selectAll('text.stop').data(b.stops).enter().append('text')
    .attr('class', 'stop')
    .attr('x', (d, i) => mapX(b.stopX[i])).attr('y', mapY(b.stopY)).attr('dy', '0.35em')
    .attr('text-anchor', 'middle').attr('font-family', sans).attr('font-size', b.font)
    .text((d) => d);
  g.append('text').attr('x', mapX(b.kmX)).attr('y', mapY(b.kmY)).attr('dy', '0.35em')
    .attr('text-anchor', 'middle').attr('font-family', sans).attr('font-size', b.km).text('Km');

  // ── thickness legend ──
  const lg = p.lg;
  g.append('text').attr('x', 11).attr('y', lg.textY).attr('dy', '0.35em')
    .attr('font-family', sans).attr('font-size', lg.font).text('Thickness (m)');
  p.legend.forEach((label, i) => {
    g.append('rect')
      .attr('x', lg.swatch[i] + 1.5).attr('y', lg.y[0] + 1.5)
      .attr('width', lg.w - 3).attr('height', lg.y[1] - lg.y[0] - 3)
      .attr('fill', thicknessColors[i]).attr('stroke', '#777').attr('stroke-width', 3);
    g.append('text').attr('x', lg.label[i]).attr('y', lg.textY).attr('dy', '0.35em')
      .attr('font-family', sans).attr('font-size', lg.font).text(label);
  });

  // ── deviation histogram ──
  const h = p.hist;
  const x = d3.scaleLinear().domain([-180, 180]).range(h.x);
  const y = d3.scaleLinear().domain([0, 25]).range(h.y);
  const hg = g.append('g');
  const clipId = 'clip' + p.letter;
  hg.append('clipPath').attr('id', clipId).append('rect')
    .attr('x', h.x[0]).attr('y', h.y[1]).attr('width', h.x[1] - h.x[0]).attr('height', h.y[0] - h.y[1]);
  hg.append('g').attr('clip-path', `url(#${clipId})`)
    .selectAll('rect').data(h.values).enter().append('rect')
    .attr('x', (d, i) => x(h.edges[i]))
    .attr('width', (d, i) => x(h.edges[i + 1]) - x(h.edges[i]))
    .attr('y', (d) => y(d))
    .attr('height', (d) => y(0) - y(d))
    .attr('fill', '#bebebe');

  const minus = (d) => String(d).replace('-', '\u2212');
  const style = (sel) => {
    sel.select('.domain').remove();
    sel.selectAll('.tick line').attr('stroke', '#000').attr('stroke-width', 1.2);
    sel.selectAll('.tick text').attr('font-family', plotFont).attr('font-size', 16).attr('fill', '#111');
  };
  hg.append('g').attr('transform', `translate(0,${h.y[0]})`)
    .call(d3.axisBottom(x).tickValues(histTicksX).tickSizeInner(-9).tickSizeOuter(0).tickPadding(11).tickFormat(minus))
    .call(style);
  hg.append('g').attr('transform', `translate(0,${h.y[1]})`)
    .call(d3.axisTop(x).tickValues(histTicksX).tickSizeInner(-9).tickSizeOuter(0).tickFormat(''))
    .call(style);
  hg.append('g').attr('transform', `translate(${h.x[0]},0)`)
    .call(d3.axisLeft(y).tickValues(histTicksY).tickSizeInner(-9).tickSizeOuter(0).tickPadding(10))
    .call(style);
  hg.append('g').attr('transform', `translate(${h.x[1]},0)`)
    .call(d3.axisRight(y).tickValues(histTicksY).tickSizeInner(-9).tickSizeOuter(0).tickFormat(''))
    .call(style);
  hg.append('rect').attr('x', h.x[0]).attr('y', h.y[1])
    .attr('width', h.x[1] - h.x[0]).attr('height', h.y[0] - h.y[1])
    .attr('fill', 'none').attr('stroke', '#000').attr('stroke-width', 2);

  hg.append('text').attr('x', (h.x[0] + h.x[1]) / 2 + 0.5).attr('y', h.y[0] + 45.5).attr('dy', '0.35em')
    .attr('text-anchor', 'middle').attr('font-family', plotFont).attr('font-size', 16.2).attr('fill', '#222')
    .text('Model Deviation From Measured (m)');
  hg.append('text')
    .attr('transform', `translate(${h.labelX},${(h.y[0] + h.y[1]) / 2}) rotate(-90)`)
    .attr('dy', '0.35em')
    .attr('text-anchor', 'middle').attr('font-family', plotFont).attr('font-size', 16.2).attr('fill', '#222')
    .text('% of Cells');
});
</script>
</body>
</html>
